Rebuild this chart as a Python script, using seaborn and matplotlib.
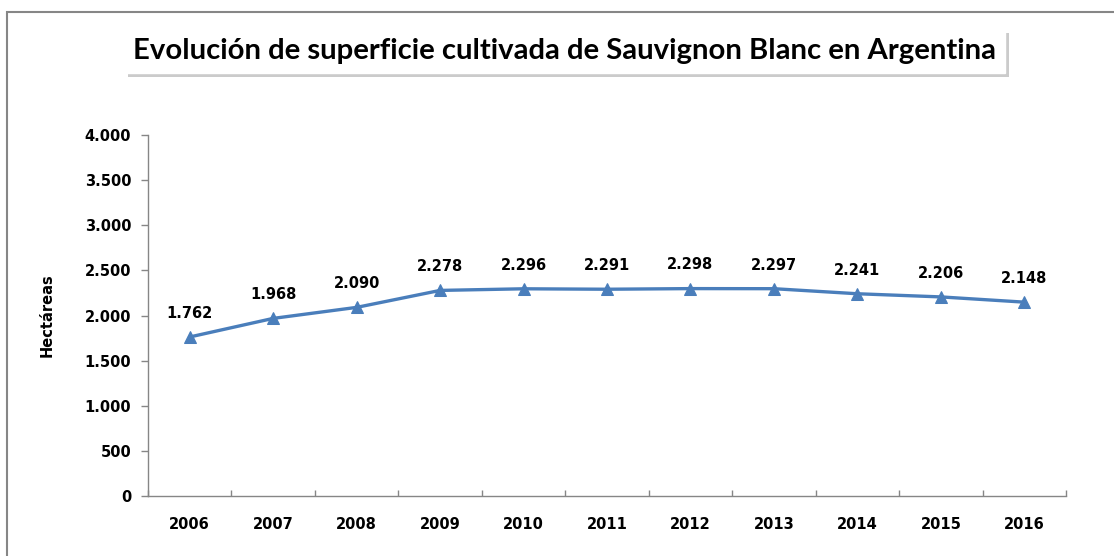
import pandas as pd
import matplotlib.pyplot as plt
import matplotlib.patheffects as pe
from matplotlib.ticker import FuncFormatter, FixedLocator
from matplotlib.patches import Rectangle
import seaborn as sns

years = ['2006', '2007', '2008', '2009', '2010', '2011', '2012', '2013', '2014', '2015', '2016']
hectareas = [1762, 1968, 2090, 2278, 2296, 2291, 2298, 2297, 2241, 2206, 2148]
y_ticks = [0, 500, 1000, 1500, 2000, 2500, 3000, 3500, 4000]

title_text = 'Evolución de superficie cultivada de Sauvignon Blanc en Argentina'
ylabel_text = 'Hectáreas'

sns.set_theme(style='white')
plt.rcParams['font.family'] = ['DejaVu Sans']
plt.rcParams['text.color'] = 'black'
plt.rcParams['xtick.color'] = 'black'
plt.rcParams['ytick.color'] = 'black'
plt.rcParams['axes.labelcolor'] = 'black'
plt.rcParams['ytick.left'] = True
plt.rcParams['xtick.bottom'] = True

df = pd.DataFrame({'year': years, 'ha': hectareas})
df['pos'] = range(len(df))

def miles(v, pos=None):
    return f'{int(v):,}'.replace(',', '.')

fig = plt.figure(figsize=(11.14, 5.56), dpi=100)
ax = fig.add_axes([148 / 1114, 60 / 556, 918 / 1114, 361 / 556])

sns.lineplot(data=df, x='pos', y='ha', ax=ax, color='#4A7EBB', linewidth=2.4,
             marker='^', markersize=9, markeredgecolor='#4A7EBB')

for _, r in df.iterrows():
    ax.annotate(miles(r['ha']), (r['pos'], r['ha']), xytext=(0, 17),
                textcoords='offset points', ha='center', va='center',
                fontsize=10.5, fontweight='bold', color='black')

ax.set_xlim(-0.5, len(years) - 0.5)
ax.set_ylim(0, 4000)
ax.set_yticks(y_ticks)
ax.yaxis.set_major_formatter(FuncFormatter(miles))
ax.set_xticks(df['pos'])
ax.set_xticklabels(years)
ax.xaxis.set_minor_locator(FixedLocator([p - 0.5 for p in range(len(years) + 1)]))
ax.tick_params(axis='x', which='major', length=0, pad=15, labelsize=10.5)
ax.tick_params(axis='x', which='minor', length=4.5, width=1, color='#868686', direction='in')
ax.tick_params(axis='y', which='major', left=True, length=5, width=1, color='#868686',
               direction='out', pad=7, labelsize=10.5)
for lab in ax.get_xticklabels() + ax.get_yticklabels():
    lab.set_fontweight('bold')

ax.set_xlabel('')
ax.set_ylabel(ylabel_text, fontsize=10.5, fontweight='bold', labelpad=22)

for s in ['top', 'right']:
    ax.spines[s].set_visible(False)
for s in ['left', 'bottom']:
    ax.spines[s].set_color('#868686')
    ax.spines[s].set_linewidth(1)

# outer chart border
fig.patches.append(Rectangle((7 / 1114, -0.1), 1.2, (556 - 12) / 556 + 0.1,
                             transform=fig.transFigure, fill=False,
                             edgecolor='#868686', linewidth=1.5))

# boxed title with shadow
t = fig.text(0.5065, 1 - 51 / 556, title_text, ha='center', va='center',
             fontsize=20, fontweight='bold', color='black',
             family=['Lato', 'Open Sans', 'DejaVu Sans'],
             bbox=dict(boxstyle='square,pad=0.3', facecolor='white', edgecolor='white'))
fig.canvas.draw()
w = t.get_window_extent().width
t.set_fontsize(20 * 862 / w)
t.get_bbox_patch().set_path_effects([pe.withSimplePatchShadow(offset=(3, -3), shadow_rgbFace='#999999', alpha=0.5)])

fig.savefig('out.png', dpi=100)
